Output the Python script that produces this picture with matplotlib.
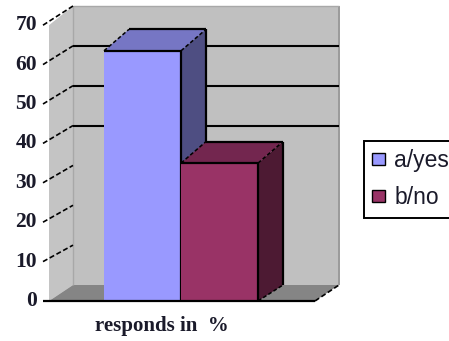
import matplotlib
matplotlib.use("Agg")
import matplotlib.pyplot as plt
from matplotlib.patches import Polygon, Patch

categories = ["a/yes", "b/no"]
values = [63.5, 35]
gridline_values = [40, 50, 60]
tick_values = [0, 10, 20, 30, 40, 50, 60, 70]
x_label = "responds in  %"

FACE = ["#9999FF", "#993366"]
TOP = ["#7676C4", "#73264F"]
SIDE = ["#4E4E82", "#4D1A33"]

W, H = 449, 341
PX_X = 77.0     # pixels per bar width
PX_V = 3.94     # pixels per percentage point, front plane
fig = plt.figure(figsize=(W / 100, H / 100), dpi=100)
ax = fig.add_axes([0, 0, 1, 1])
ax.set_xlim(-104 / PX_X, (W - 104) / PX_X)
ax.set_ylim((301 - H) / PX_V, 301 / PX_V)
ax.axis("off")

# Oblique depth of the chart box
DX = 24 / PX_X
FLOOR_DV = 16 / PX_V
BACK_SCALE = 3.986 / PX_V
WALL_L, WALL_R = -55 / PX_X, 211 / PX_X
TOP_V = 70


def back(x, v):
    return x + DX, FLOOR_DV + v * BACK_SCALE


def poly(pts, color, z):
    ax.add_patch(Polygon(pts, closed=True, facecolor=color, edgecolor="none", zorder=z))


def line(p, q, z=5, lw=1.6, color="#000000", ls="-"):
    ax.plot([p[0], q[0]], [p[1], q[1]], color=color, lw=lw, ls=ls, zorder=z,
            solid_capstyle="butt")


# Walls and floor
poly([back(WALL_L, 0), back(WALL_R, 0), back(WALL_R, TOP_V), back(WALL_L, TOP_V)], "#C0C0C0", 1)
poly([(WALL_L, 0), back(WALL_L, 0), back(WALL_L, TOP_V), (WALL_L, TOP_V)], "#C4C4C4", 1)
poly([(WALL_L, 0), (WALL_R, 0), back(WALL_R, 0), back(WALL_L, 0)], "#858585", 1)
line(back(WALL_R, 0), back(WALL_R, TOP_V), z=2, color="#9A9A9A", lw=1.4)
line(back(WALL_L, TOP_V), back(WALL_R, TOP_V), z=2, color="#A8A8A8", lw=1.0)
line(back(WALL_L, 0), back(WALL_L, TOP_V), z=2, color="#A8A8A8", lw=1.0)

# Gridlines on the back wall
for v in gridline_values:
    line(back(WALL_L, v), back(WALL_R, v), z=2, lw=1.5)

# Tick marks running across the side wall, with their value labels
LABEL_X = -67 / PX_X
for v in tick_values:
    if v > 0:
        line((WALL_L - 6 / PX_X, v), back(WALL_L, v), z=3, lw=1.2, ls=(0, (3, 1.6)))
    ax.text(LABEL_X, v, str(v), ha="right", va="center",
            family="Liberation Serif", weight="bold", fontsize=15.5, color="#1A1A2A")

# Bars with front, top and side faces
BAR_TOP_DV = 21.5 / PX_V
BAR_DX = 25 / PX_X
for i, v in enumerate(values):
    l, r = float(i), float(i + 1)
    z = 10 + i
    poly([(l, 0), (r, 0), (r, v), (l, v)], FACE[i], z)
    poly([(l, v), (r, v), (r + BAR_DX, v + BAR_TOP_DV), (l + BAR_DX, v + BAR_TOP_DV)], TOP[i], z)
    poly([(r, 0), (r + BAR_DX, FLOOR_DV), (r + BAR_DX, v + BAR_TOP_DV), (r, v)], SIDE[i], z)
    line((l, v), (r, v), z=z + .5)
    line((r, 0), (r, v), z=z + .5)
    line((l + BAR_DX, v + BAR_TOP_DV), (r + BAR_DX, v + BAR_TOP_DV), z=z + .5)
    line((r + BAR_DX, FLOOR_DV), (r + BAR_DX, v + BAR_TOP_DV), z=z + .5)
    line((l, v), (l + BAR_DX, v + BAR_TOP_DV), z=z + .5, lw=1.1, ls=(0, (2.5, 1.5)))
    line((r, v), (r + BAR_DX, v + BAR_TOP_DV), z=z + .5, lw=1.1, ls=(0, (2.5, 1.5)))
    line((r, 0), (r + BAR_DX, FLOOR_DV), z=z + .5, lw=1.1, ls=(0, (2.5, 1.5)))

# Baseline and the open front-right floor edges
line((WALL_L - 6 / PX_X, 0), (WALL_R, 0), z=20, lw=1.6)
line((WALL_R, 0), back(WALL_R, 0), z=3, lw=1.2, ls=(0, (3, 1.6)))

ax.text(58 / PX_X, (301 - 326) / PX_V, x_label, ha="center", va="center",
        family="Liberation Serif", weight="bold", fontsize=15, color="#1A1A2A")

handles = [Patch(facecolor=c, edgecolor="#000000", linewidth=1.0, label=n)
           for c, n in zip(FACE, categories)]
leg = ax.legend(handles=handles, loc="upper left",
                bbox_to_anchor=(364 / W, 1 - 141 / H), bbox_transform=fig.transFigure,
                prop={"family": "Liberation Sans", "size": 16.5},
                fancybox=False, framealpha=1, edgecolor="#000000",
                handlelength=0.56, handleheight=0.45, handletextpad=0.4,
                borderpad=0.36, labelspacing=0.62, borderaxespad=0, labelcolor="#1A1A2A")
leg.get_frame().set_linewidth(1.4)

fig.savefig("out.png", dpi=100)
